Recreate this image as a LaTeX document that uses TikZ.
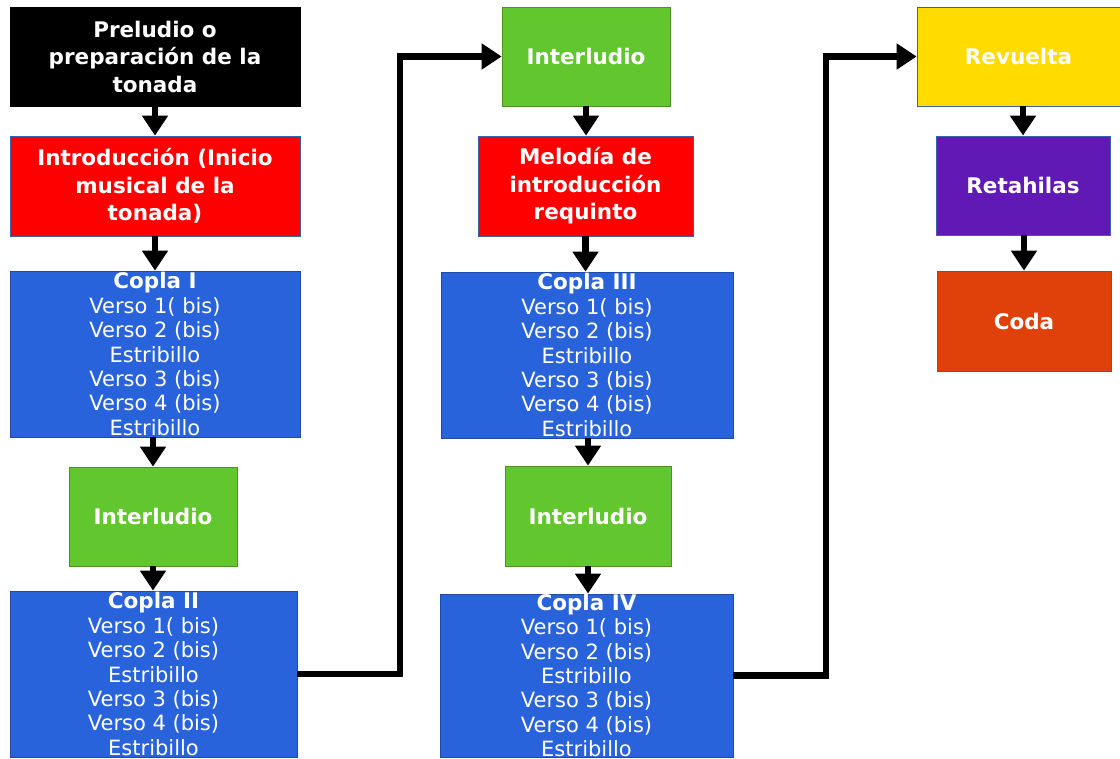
\documentclass[tikz,border=0pt]{standalone}
\usepackage{fontspec}
\setmainfont{DejaVu Sans}
\usetikzlibrary{arrows.meta}
\definecolor{cBlack}{HTML}{000000}
\definecolor{cRed}{HTML}{FF0000}
\definecolor{cBlue}{HTML}{2963DC}
\definecolor{cGreen}{HTML}{62C62E}
\definecolor{cYellow}{HTML}{FFDB00}
\definecolor{cPurple}{HTML}{6019B5}
\definecolor{cCoda}{HTML}{E0400A}
\definecolor{cEdge}{HTML}{3F5FA8}
\tikzset{
  box/.style={rectangle, inner sep=0pt, text=white, align=center, line width=0.8pt,
    font=\bfseries\fontsize{21.5}{27.5}\selectfont},
  copla/.style={box, fill=cBlue, draw=cBlue!75!black, font=\fontsize{21}{24.4}\selectfont},
  flow/.style={line width=6.5pt, -{Triangle[width=25pt,length=20pt]}, line join=miter},
}
\newcommand{\cophead}[1]{{\bfseries\fontsize{21.5}{24.4}\selectfont #1}}
\begin{document}
\begin{tikzpicture}[x=1pt,y=-1pt]
\useasboundingbox (0,0) rectangle (1120,759);
\fill[white] (0,0) rectangle (1120,759);
% left column
\node[box, fill=cBlack, draw=cBlack, minimum width=290pt, minimum height=99pt] (pre) at (155,56.5) {Preludio o\\preparación de la\\tonada};
\node[box, fill=cRed, draw=cEdge, minimum width=290pt, minimum height=100pt] (intro) at (155,186) {Introducción (Inicio\\musical de la\\tonada)};
\node[copla, minimum width=290pt, minimum height=166pt] (c1) at (155,354) {\cophead{Copla I}\\Verso 1( bis)\\Verso 2 (bis)\\Estribillo\\Verso 3 (bis)\\Verso 4 (bis)\\Estribillo};
\node[box, fill=cGreen, draw=cGreen!75!black, minimum width=168pt, minimum height=99pt] (i1) at (153,516.5) {Interludio};
\node[copla, minimum width=287pt, minimum height=166pt] (c2) at (153.5,674) {\cophead{Copla II}\\Verso 1( bis)\\Verso 2 (bis)\\Estribillo\\Verso 3 (bis)\\Verso 4 (bis)\\Estribillo};
% middle column
\node[box, fill=cGreen, draw=cGreen!75!black, minimum width=168pt, minimum height=99pt] (i2) at (586,56.5) {Interludio};
\node[box, fill=cRed, draw=cEdge, minimum width=215pt, minimum height=100pt] (mel) at (585.5,186) {Melodía de\\introducción\\requinto};
\node[copla, minimum width=292pt, minimum height=166pt] (c3) at (587,355) {\cophead{Copla III}\\Verso 1( bis)\\Verso 2 (bis)\\Estribillo\\Verso 3 (bis)\\Verso 4 (bis)\\Estribillo};
\node[box, fill=cGreen, draw=cGreen!75!black, minimum width=166pt, minimum height=100pt] (i3) at (588,516) {Interludio};
\node[copla, minimum width=293pt, minimum height=161pt] (c4) at (586.5,675.5) {\cophead{Copla IV}\\Verso 1( bis)\\Verso 2 (bis)\\Estribillo\\Verso 3 (bis)\\Verso 4 (bis)\\Estribillo};
% right column
\node[box, fill=cYellow, draw=cEdge, minimum width=203pt, minimum height=99pt] (rev) at (1018.5,56.5) {Revuelta};
\node[box, fill=cPurple, draw=cEdge, minimum width=174pt, minimum height=99pt] (ret) at (1023,185.5) {Retahilas};
\node[box, fill=cCoda, draw=cEdge, minimum width=174pt, minimum height=100pt] (coda) at (1024,321) {Coda};
% bend points
\coordinate (k1) at (400,300);
\coordinate (k2) at (826,300);
% connectors
\draw[flow] (pre.south) -- (intro.north);
\draw[flow] (intro.south) -- (c1.north);
\draw[flow] (i1.north |- c1.south) -- (i1.north);
\draw[flow] (i1.south) -- (c2.north -| i1.south);
\draw[flow] (c2.east) -| (k1) |- (i2.west);
\draw[flow] (i2.south) -- (mel.north -| i2.south);
\draw[flow] (mel.south) -- (c3.north -| mel.south);
\draw[flow] (i3.north |- c3.south) -- (i3.north);
\draw[flow] (i3.south) -- (c4.north -| i3.south);
\draw[flow] (c4.east) -| (k2) |- (rev.west);
\draw[flow] (rev.south -| ret.north) -- (ret.north);
\draw[flow] (ret.south -| coda.north) -- (coda.north);
\end{tikzpicture}
\end{document}
